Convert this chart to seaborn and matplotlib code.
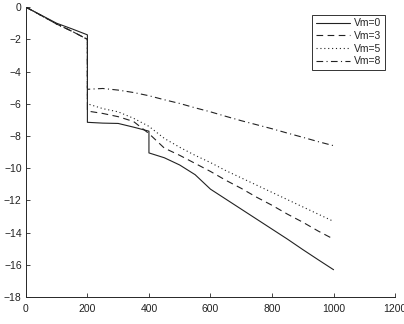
import matplotlib

matplotlib.use("Agg")
import matplotlib.pyplot as plt
import pandas as pd
import seaborn as sns

sns.set_style("ticks")
plt.rcParams["font.family"] = ["Liberation Sans", "DejaVu Sans"]

# sample positions (200 and 400 repeated for the vertical drops)
x = [0, 50, 100, 150, 200, 200, 250, 300, 350, 400, 400, 450, 500, 550,
     600, 650, 700, 750, 800, 850, 900, 950, 1000]
vm0 = [0, -0.5, -1.0, -1.35, -1.72, -7.15, -7.2, -7.22, -7.45, -7.7, -9.05,
       -9.35, -9.8, -10.4, -11.3, -11.92, -12.54, -13.16, -13.78, -14.4,
       -15.05, -15.68, -16.3]
vm3 = [0, -0.52, -1.05, -1.5, -2.0, -6.45, -6.6, -6.8, -7.1, -7.85, -7.85,
       -8.75, -9.2, -9.7, -10.2, -10.75, -11.25, -11.8, -12.3, -12.85,
       -13.35, -13.9, -14.4]
vm5 = [0, -0.52, -1.05, -1.5, -2.0, -6.0, -6.3, -6.5, -6.9, -7.4, -7.4,
       -8.15, -8.7, -9.2, -9.65, -10.15, -10.6, -11.05, -11.5, -11.95,
       -12.4, -12.85, -13.3]
vm8 = [0, -0.52, -1.05, -1.5, -2.0, -5.1, -5.05, -5.15, -5.3, -5.5, -5.5,
       -5.75, -5.98, -6.25, -6.5, -6.78, -7.05, -7.3, -7.55, -7.82, -8.08,
       -8.35, -8.6]
labels = ["Vm=0", "Vm=3", "Vm=5", "Vm=8"]

series = [vm0, vm3, vm5, vm8]
styles = ["-", (0, (6, 4)), (0, (1, 2.5)), (0, (6, 3, 1, 3))]

fig = plt.figure(figsize=(4.04, 3.24), dpi=100)
ax = fig.add_axes([0.064, 0.083, 0.914, 0.895])
for lab, ys, ls in zip(labels, series, styles):
    df = pd.DataFrame({"x": x, "y": ys})
    sns.lineplot(data=df, x="x", y="y", estimator=None, sort=False,
                 color="#222222", lw=0.8, ls=ls, label=lab, ax=ax)

ax.set_xlim(0, 1200)
ax.set_ylim(-18, 0)
ax.set_xticks(range(0, 1201, 200))
ax.set_yticks(range(-18, 1, 2))
ax.set_xlabel("")
ax.set_ylabel("")
ax.tick_params(direction="in", length=3, width=0.6, labelsize=7.5, pad=3,
               labelcolor="#222222")
ax.tick_params(axis="x", pad=5)
for s in ["top", "right"]:
    ax.spines[s].set_visible(False)
for s in ["left", "bottom"]:
    ax.spines[s].set_linewidth(0.7)
leg = ax.legend(loc="upper right", fontsize=7.5, frameon=True, fancybox=False,
                edgecolor="black", handlelength=3.3, borderaxespad=0.6,
                labelspacing=0.25, handletextpad=0.4, borderpad=0.35,
                bbox_to_anchor=(0.99, 0.995))
leg.get_frame().set_linewidth(0.7)

fig.savefig("out.png", dpi=100)
